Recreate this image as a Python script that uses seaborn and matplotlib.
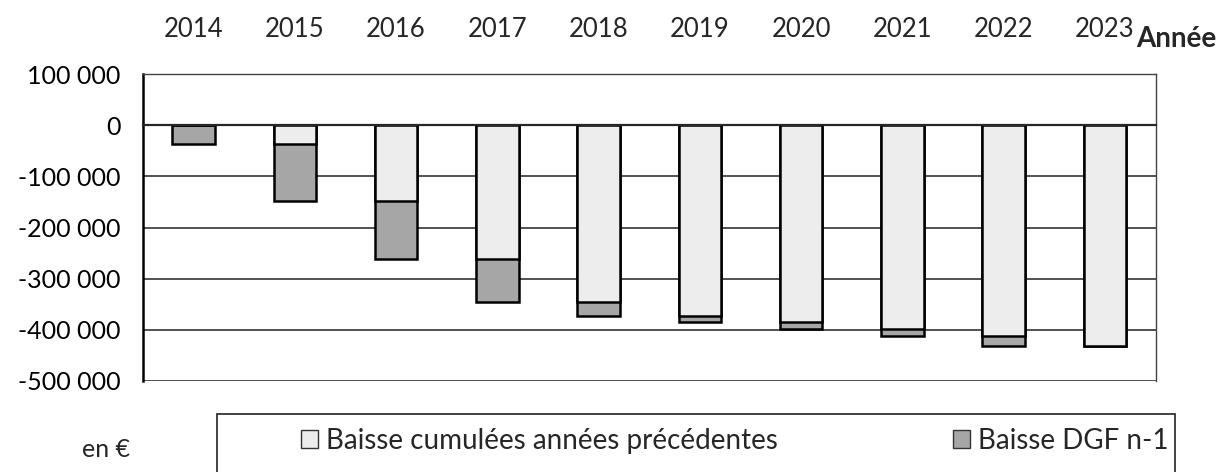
import numpy as np
import pandas as pd
import matplotlib
matplotlib.use("Agg")
import matplotlib.pyplot as plt
import seaborn as sns
from matplotlib.patches import Patch, Rectangle
from matplotlib.ticker import FuncFormatter

# ============================
# Data (in euros)
# ============================
years = ["2014", "2015", "2016", "2017", "2018", "2019", "2020", "2021", "2022", "2023"]
baisse_cumulee = [0, -36000, -149000, -261000, -345000, -374000, -385000, -399000, -412000, -432000]
baisse_dgf = [-36000, -113000, -112000, -84000, -29000, -11000, -14000, -13000, -20000, 0]

df = pd.DataFrame({"annee": years, "cumul": baisse_cumulee, "dgf": baisse_dgf})
df["total"] = df["cumul"] + df["dgf"]

light = "#ededed"
dark = "#a6a6a6"

sns.set_style("white")
plt.rcParams["font.family"] = ["Lato", "DejaVu Sans"]
plt.rcParams["font.size"] = 18

fig = plt.figure(figsize=(12.32, 4.72), dpi=100)
ax = fig.add_axes([0.116, 0.193, 0.822, 0.650])

# dark bar = full drop, light bar drawn over it = cumulated part
sns.barplot(data=df, x="annee", y="total", color=dark, saturation=1, width=0.42,
            edgecolor="black", linewidth=1.8, ax=ax, zorder=3)
sns.barplot(data=df, x="annee", y="cumul", color=light, saturation=1, width=0.42,
            edgecolor="black", linewidth=1.8, ax=ax, zorder=4)

ax.set_ylim(-500000, 100000)
ax.set_xlim(-0.5, 9.5)
ax.set_yticks(np.arange(-500000, 100001, 100000))
ax.yaxis.set_major_formatter(FuncFormatter(lambda v, p: f"{int(v):,}".replace(",", " ")))
ax.yaxis.grid(True, color="#222222", linewidth=1.1, zorder=0)
ax.set_axisbelow(True)
ax.tick_params(axis="y", direction="out", length=7, width=1.5, pad=9, colors="black", labelsize=18)

# x axis sits on zero, ticks between categories crossing it
ax.spines["bottom"].set_position(("data", 0))
ax.spines["bottom"].set_linewidth(1.6)
ax.spines["bottom"].set_zorder(5)
ax.set_xticks(np.arange(0.5, 9, 1))
ax.set_xticklabels([])
ax.tick_params(axis="x", direction="inout", length=16, width=1.5, colors="black")
ax.set_xlabel("")
ax.set_ylabel("")

ax.spines["left"].set_linewidth(1.8)
ax.spines["left"].set_color("black")
for s in ["top", "right"]:
    ax.spines[s].set_visible(True)
    ax.spines[s].set_color("#444444")
    ax.spines[s].set_linewidth(1.0)

# year labels on top
top = ax.secondary_xaxis("top")
top.set_xticks(range(len(years)), labels=years)
top.tick_params(length=0, pad=23, labelsize=18.5)
top.spines["top"].set_visible(False)

fig.text(0.955, 0.918, "Année", ha="center", va="center", fontsize=20, fontweight="bold")
fig.text(0.086, 0.047, "en €", ha="center", va="center", fontsize=18)

# legend box, running off the bottom
fig.patches.append(Rectangle((0.176, -0.1), 0.778, 0.223, transform=fig.transFigure,
                             facecolor="white", edgecolor="#333333", linewidth=1.3))
handles = [Patch(facecolor=light, edgecolor="#333333", linewidth=1.0, label="Baisse cumulées années précédentes"),
           Patch(facecolor=dark, edgecolor="#333333", linewidth=1.0, label="Baisse DGF n-1")]
fig.legend(handles=handles, loc="center left", bbox_to_anchor=(0.224, 0.066), ncol=2,
           frameon=False, handlelength=0.6, handleheight=0.6, handletextpad=0.3,
           columnspacing=6.3, fontsize=20)

fig.savefig("out.png", dpi=100)
